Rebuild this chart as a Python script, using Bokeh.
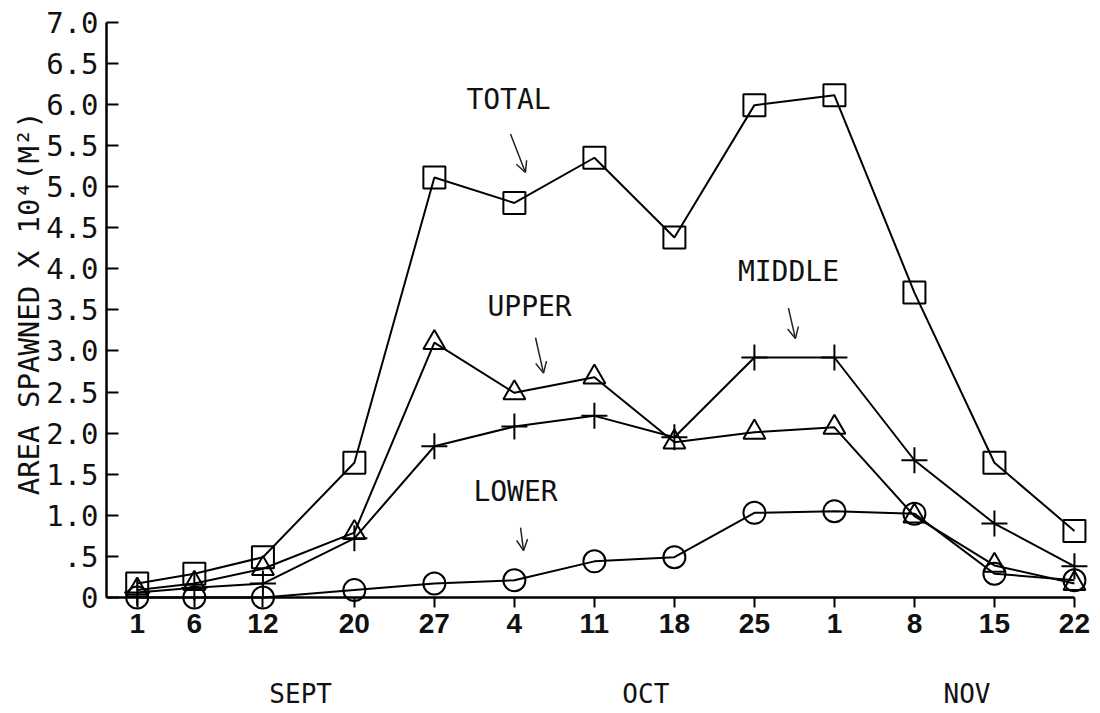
import math

from bokeh.plotting import figure
from bokeh.models import Range1d, FixedTicker, Label, Arrow, OpenHead
from bokeh.embed import file_html
from bokeh.resources import INLINE

# Sampling dates, counted in days from 31 August (Sept 1 = 1, Oct 4 = 34, Nov 1 = 62)
days = [1, 6, 12, 20, 27, 34, 41, 48, 55, 62, 69, 76, 83]
day_labels = ["1", "6", "12", "20", "27", "4", "11", "18", "25", "1", "8", "15", "22"]
month_names = ["SEPT", "OCT", "NOV"]
month_centres = [15.3, 45.5, 73.6]

# Area spawned, x 10^4 m^2
total = [0.17, 0.29, 0.49, 1.64, 5.11, 4.80, 5.35, 4.38, 5.99, 6.11, 3.71, 1.64, 0.81]
upper = [0.09, 0.17, 0.35, 0.79, 3.10, 2.49, 2.68, 1.89, 2.01, 2.07, 0.99, 0.39, 0.17]
middle = [0.06, 0.12, 0.17, 0.72, 1.84, 2.08, 2.21, 1.95, 2.92, 2.92, 1.67, 0.90, 0.38]
lower = [0.0, 0.0, 0.0, 0.09, 0.17, 0.21, 0.44, 0.49, 1.03, 1.05, 1.02, 0.29, 0.21]

y_ticks = [0, 0.5, 1.0, 1.5, 2.0, 2.5, 3.0, 3.5, 4.0, 4.5, 5.0, 5.5, 6.0, 6.5, 7.0]
y_tick_labels = ["0", ".5", "1.0", "1.5", "2.0", "2.5", "3.0", "3.5", "4.0",
                 "4.5", "5.0", "5.5", "6.0", "6.5", "7.0"]
y_title = "AREA SPAWNED X 10\u2074(M\u00b2)"

MONO = "DejaVu Sans Mono"
# the frame fills the whole page; both axes are pinned inside it
X0, X1 = -10.96, 85.28
Y0, Y1 = -1.411, 7.263
Y_AXIS_AT = -1.68

p = figure(width=1100, height=713, output_backend="svg", toolbar_location=None,
           x_range=Range1d(X0, X1), y_range=Range1d(Y0, Y1),
           min_border_left=0, min_border_right=0, min_border_top=0,
           min_border_bottom=0)
p.grid.visible = False
p.outline_line_color = None
p.background_fill_color = "white"
p.border_fill_color = "white"

# x axis: sits on y = 0, ticks pointing down
xa = p.xaxis[0]
xa.fixed_location = 0
xa.ticker = FixedTicker(ticks=days)
xa.major_label_overrides = {d: t for d, t in zip(days, day_labels)}
xa.bounds = (Y_AXIS_AT, days[-1])
xa.major_tick_in = 0
xa.major_tick_out = 10
xa.minor_tick_line_color = None
xa.axis_line_width = 2.5
xa.major_tick_line_width = 2
xa.major_label_standoff = 6
xa.major_label_text_font = "Liberation Sans"
xa.major_label_text_font_style = "bold"
xa.major_label_text_font_size = "28px"
xa.major_label_text_color = "#111111"

# y axis: ticks pointing inward
ya = p.yaxis[0]
ya.fixed_location = Y_AXIS_AT
ya.ticker = FixedTicker(ticks=y_ticks)
ya.major_label_overrides = {v: t for v, t in zip(y_ticks, y_tick_labels)}
ya.bounds = (0, 7)
ya.major_tick_in = 12
ya.major_tick_out = 0
ya.minor_tick_line_color = None
ya.axis_line_width = 2.5
ya.major_tick_line_width = 2
ya.major_label_standoff = 8
ya.major_label_text_font = MONO
ya.major_label_text_font_size = "29px"
ya.major_label_text_color = "#111111"

# y-axis title, rotated, to the left of the tick labels
p.add_layout(Label(x=-8.51, y=3.58, text=y_title,
                   angle=math.pi / 2, text_align="center", text_baseline="middle",
                   text_font=MONO, text_font_size="29px", text_color="#111111"))

# the four series
series = [
    (total, "square", 22),
    (upper, "triangle", 22),
    (middle, "cross", 26),
    (lower, "circle", 22),
]
for vals, marker, size in series:
    p.line(days, vals, line_color="black", line_width=2)
    p.scatter(days, vals, marker=marker, size=size, fill_color=None,
              line_color="black", line_width=2)

# series names with pointer arrows
notes = [
    ("TOTAL", 33.49, 6.06, (33.66, 5.64, 34.97, 5.17)),
    ("UPPER", 35.33, 3.54, (35.85, 3.16, 36.55, 2.73)),
    ("MIDDLE", 57.98, 3.97, (57.98, 3.52, 58.59, 3.15)),
    ("LOWER", 34.10, 1.29, (34.54, 0.85, 34.80, 0.57)),
]
for text, tx, ty, (ax0, ay0, ax1, ay1) in notes:
    p.add_layout(Label(x=tx, y=ty, text=text, text_align="center",
                       text_baseline="middle", text_font=MONO,
                       text_font_size="28px", text_color="#111111"))
    p.add_layout(Arrow(x_start=ax0, y_start=ay0, x_end=ax1, y_end=ay1,
                       line_width=1.5, line_color="#222222",
                       end=OpenHead(size=11, line_width=1.5, line_color="#222222")))

# month names under the date ticks
for name, mx in zip(month_names, month_centres):
    p.add_layout(Label(x=mx, y=-1.168, text=name, text_align="center",
                       text_baseline="middle", text_font=MONO,
                       text_font_size="26px", text_color="#111111"))

open("out.html", "w").write(file_html(p, INLINE))
